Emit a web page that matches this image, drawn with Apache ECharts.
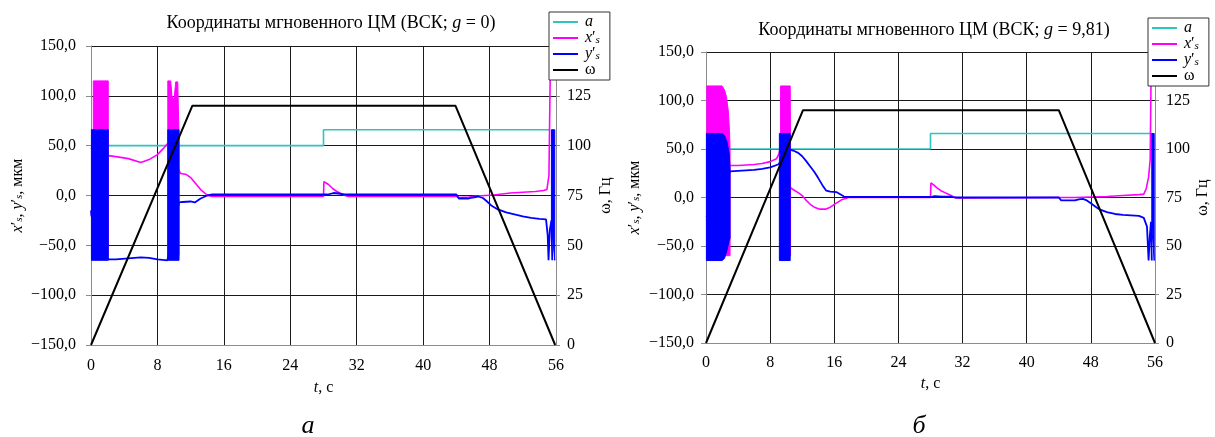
<!DOCTYPE html>
<html><head><meta charset="utf-8">
<script src="https://cdn.jsdelivr.net/npm/echarts@6/dist/echarts.min.js"></script>
<style>html,body{margin:0;padding:0;background:#fff}#c{width:1215px;height:437px}</style>
</head><body><div id="c"></div>
<script>
// ---------- data (time t in s, coordinates in µm, ω in Hz) ----------
const timeTicks = [0, 8, 16, 24, 32, 40, 48, 56];
const coordTicks = [-150, -100, -50, 0, 50, 100, 150];
const omegaTicks = [0, 25, 50, 75, 100, 125];

// chart a (g = 0)
const cyanA = [[0.3,50],[28,50],[28,66],[55.3,66]];
const omegaA = [[0,0],[12.2,120],[43.9,120],[55.9,0]];
const magA = [[0,48],[0.3,45],[2.1,40],[3,39],[4.5,37],[6,33],[7,36],[8,41],[8.7,47],[9.2,52],[10.6,25],[10.8,22],[11.5,21],[12,18],[12.5,13],[13.2,6],[13.9,1],[14.5,-1],[28,-1],[28.05,14],[28.6,11],[29.1,7],[29.6,4],[30.1,2],[30.6,0],[31,-1],[44,-1],[44.3,-2],[45.5,-1.5],[46.5,-0.5],[47.5,0],[48.5,0.5],[49.5,1.5],[50.5,2.5],[51.5,3],[52.5,3.5],[53.5,4],[54.5,5],[54.9,6],[55.15,20],[55.3,118],[55.4,130]];
const magBandsA = [
  [[0.28,-60,115],[2.08,-60,115]],
  [[9.25,-60,115],[9.6,-60,115],[9.75,-60,100],[10.0,-60,96],[10.2,-60,114],[10.45,-60,114],[10.6,-60,60]]
];
const blueA = [[0,-15],[0.05,-20],[2.08,-64],[3,-64],[4.5,-63],[6,-62],[7,-62.5],[8,-64],[9.2,-65],[10.6,-7],[11,-6.5],[12,-6],[12.5,-7],[13.2,-3],[14,0],[14.5,1],[28,1],[28.5,1],[29.2,2.5],[29.8,2],[30.5,1],[44,1],[44.3,-3],[45.5,-3],[46,-2],[46.6,-1],[47.2,-2.5],[47.7,-6],[48.2,-10],[49,-14],[50,-17],[51,-19],[52,-21],[53,-22.5],[54,-23.5],[54.8,-24],[55,-40],[55.1,-65],[55.25,-35],[55.45,-25],[55.55,-65]];
const blueBandsA = [
  [[0.05,-65,66],[2.08,-65,66]],
  [[9.25,-65,66],[10.6,-65,66]],
  [[55.45,-30,66],[55.85,-65,66]]
];

// chart б (g = 9,81)
const cyanB = [[0.5,50],[28,50],[28,66],[55.6,66]];
const omegaB = [[0,0],[12.1,120],[44,120],[56,0]];
const magB = [[0.1,32],[2.95,33],[4,33],[5,33.5],[6,34],[7,35],[8,37],[8.8,40],[9.1,45],[9.3,52],[10.55,10],[10.9,8],[11.5,5],[12,2],[12.5,-3],[13,-7],[13.5,-10],[14.2,-12],[14.9,-12],[15.5,-10],[16.2,-6],[17,-2],[17.8,0],[28,0],[28.05,15],[28.4,13],[28.8,10],[29.3,7],[29.8,5],[30.3,3],[30.8,1],[31.3,-0.5],[32,-0.5],[44,0],[46,0],[48,0.5],[50,1],[52,2],[54,3],[54.6,3.5],[54.9,9],[55.2,21],[55.4,39],[55.5,118],[55.55,126]];
const magBandsB = [
  [[0.1,-60,115],[2.0,-60,115],[2.3,-60,111],[2.55,-60,104],[2.8,-60,88],[2.95,-60,65],[3.0,-60,50]],
  [[9.3,-60,115],[10.5,-60,115],[10.55,-60,40]]
];
const blueB = [[0.05,-20],[3.0,27],[4,27.5],[5,28],[6,28.5],[7,29.5],[8,31],[9,34],[9.2,36],[10.5,49],[11,48],[11.5,46],[12,42.5],[12.5,37.5],[13,32],[13.5,26.5],[14,20],[14.5,13],[15,7],[15.5,6],[16.3,5.5],[16.8,3],[17.2,1],[18,0.5],[28,0.5],[28.5,1.5],[29.5,1],[30.5,1],[31,0],[44,0],[44.3,-3],[46,-3],[46.5,-2],[47,-1.5],[47.5,-3],[48,-6],[48.5,-9],[49,-12],[50,-15],[51,-17],[52,-18],[53,-18.5],[54,-19],[54.6,-21],[55,-30],[55.2,-65],[55.35,-40],[55.5,-25],[55.6,-65]];
const blueBandsB = [
  [[0.05,-65,66],[2.0,-65,66],[2.3,-63,64],[2.6,-55,58],[2.9,-44,45],[3.0,-42,30]],
  [[9.15,-65,66],[10.5,-65,66]],
  [[55.6,-30,66],[55.9,-65,66]]
];

// ---------- styling ----------
const FONT = 'Liberation Serif';
const C_CYAN = '#2ec4c0', C_MAG = '#ff00ff', C_BLUE = '#0000ff', C_BLACK = '#000000';
const GRID_LINE = '#1a1a1a', AXIS_LINE = '#8c8c8c';

const richBase = {
  i: {fontFamily: FONT, fontStyle: 'italic', fontSize: 16, color: '#000', lineHeight: 15, verticalAlign: 'middle'},
  n: {fontFamily: FONT, fontSize: 16, color: '#000', lineHeight: 15, verticalAlign: 'middle'},
  s: {fontFamily: FONT, fontStyle: 'italic', fontSize: 11, color: '#000', lineHeight: 8, verticalAlign: 'bottom'}
};
const richTitle = {
  i: {fontFamily: FONT, fontStyle: 'italic', fontSize: 18, color: '#000'},
  n: {fontFamily: FONT, fontSize: 18, color: '#000'}
};

const legendText = {
  a: '{i|a}', xs: '{i|x}{n|′}{s|s}', ys: '{i|y}{n|′}{s|s}', w: '{n|ω}',
  a2: '{i|a}', xs2: '{i|x}{n|′}{s|s}', ys2: '{i|y}{n|′}{s|s}', w2: '{n|ω}'
};

function fmtCoord(v) { return (v < 0 ? '−' : '') + Math.abs(v).toFixed(1).replace('.', ','); }

function xAxis(gi, margin, gap) {
  return {
    type: 'value', gridIndex: gi, min: timeTicks[0], max: timeTicks[timeTicks.length - 1], interval: 8,
    axisLine: {show: true, onZero: false, lineStyle: {color: AXIS_LINE, width: 1}},
    axisTick: {show: false},
    axisLabel: {fontFamily: FONT, fontSize: 16, color: '#000', margin: margin},
    splitLine: {show: true, lineStyle: {color: GRID_LINE, width: 1}},
    name: '{i|t}{n|, с}', nameLocation: 'middle', nameGap: gap,
    nameTextStyle: {rich: richBase}
  };
}
function yCoordAxis(gi, margin, gap) {
  return {
    type: 'value', gridIndex: gi, min: coordTicks[0], max: coordTicks[coordTicks.length - 1], interval: 50, position: 'left',
    axisLine: {show: true, lineStyle: {color: AXIS_LINE, width: 1}},
    axisTick: {show: true, length: 5, lineStyle: {color: AXIS_LINE}},
    axisLabel: {fontFamily: FONT, fontSize: 16, color: '#000', margin: margin, formatter: fmtCoord},
    splitLine: {show: true, lineStyle: {color: GRID_LINE, width: 1}},
    name: '{i|x}{n|′}{s|s}{n|, }{i|y}{n|′}{s|s}{n|, мкм}', nameLocation: 'middle', nameGap: gap, nameRotate: 90,
    nameTextStyle: {rich: richBase}
  };
}
function yOmegaAxis(gi, margin, gap) {
  return {
    type: 'value', gridIndex: gi, min: 0, max: 150, interval: 25, position: 'right',
    axisLine: {show: true, lineStyle: {color: AXIS_LINE, width: 1}},
    axisTick: {show: true, length: 4, lineStyle: {color: AXIS_LINE}},
    axisLabel: {fontFamily: FONT, fontSize: 16, color: '#000', margin: margin,
      formatter: v => (omegaTicks.indexOf(v) < 0 ? '' : String(v))},
    splitLine: {show: false},
    name: '{n|ω, Гц}', nameLocation: 'middle', nameGap: gap, nameRotate: 90,
    nameTextStyle: {rich: richBase}
  };
}

function lineS(name, data, color, width, xi, yi, z) {
  return {
    type: 'line', name: name, data: data, xAxisIndex: xi, yAxisIndex: yi, z: z,
    showSymbol: false, symbol: 'none', color: color, silent: true,
    lineStyle: {color: color, width: width}, itemStyle: {color: color}, animation: false
  };
}
function bandS(bands, color, xi, yi, z) {
  return {
    type: 'custom', xAxisIndex: xi, yAxisIndex: yi, z: z, silent: true, animation: false,
    data: bands.map(b => [b[0][0], b[0][2]]),
    encode: {x: 0, y: 1},
    renderItem: function (params, api) {
      const b = bands[params.dataIndex];
      const up = b.map(p => api.coord([p[0], p[2]]));
      const lo = b.map(p => api.coord([p[0], p[1]])).reverse();
      return {type: 'polygon', shape: {points: up.concat(lo)},
        style: {fill: color, stroke: color, lineWidth: 1}};
    }
  };
}

function legend(left, top, names) {
  return {
    data: names, orient: 'vertical', left: left, top: top,
    icon: 'rect', itemWidth: 25, itemHeight: 2, itemGap: 0,
    padding: [2, 10, 2, 4], borderColor: '#333', borderWidth: 1, backgroundColor: '#fff',
    selectedMode: false, z: 20,
    formatter: n => legendText[n],
    textStyle: {rich: richBase, padding: [0, 0, 0, 2]}
  };
}

const chart = echarts.init(document.getElementById('c'), null, {renderer: 'canvas'});
chart.setOption({
  backgroundColor: '#fff',
  animation: false,
  grid: [
    {left: 91, top: 46, width: 465, height: 299},
    {left: 706, top: 52, width: 449, height: 291}
  ],
  xAxis: [xAxis(0, 13, 35), xAxis(1, 12, 31)],
  yAxis: [yCoordAxis(0, 15, 66), yOmegaAxis(0, 11, 42), yCoordAxis(1, 12, 64), yOmegaAxis(1, 11, 40)],
  legend: [legend(549, 12, ['a', 'xs', 'ys', 'w']), legend(1148, 18, ['a2', 'xs2', 'ys2', 'w2'])],
  graphic: [
    {type: 'text', x: 331, y: 23, style: {text: '{n|Координаты мгновенного ЦМ (ВСК; }{i|g}{n| = 0)}', rich: richTitle, align: 'center', verticalAlign: 'middle'}},
    {type: 'text', x: 934, y: 30, style: {text: '{n|Координаты мгновенного ЦМ (ВСК; }{i|g}{n| = 9,81)}', rich: richTitle, align: 'center', verticalAlign: 'middle'}},
    {type: 'text', x: 308, y: 426, style: {text: 'а', fontFamily: FONT, fontStyle: 'italic', fontSize: 26, fill: '#000', align: 'center', verticalAlign: 'middle'}},
    {type: 'text', x: 919, y: 426, style: {text: 'б', fontFamily: FONT, fontStyle: 'italic', fontSize: 26, fill: '#000', align: 'center', verticalAlign: 'middle'}}
  ],
  series: [
    lineS('a', cyanA, C_CYAN, 1.6, 0, 0, 2),
    lineS('xs', magA, C_MAG, 1.6, 0, 0, 3),
    bandS(magBandsA, C_MAG, 0, 0, 3),
    lineS('ys', blueA, C_BLUE, 1.8, 0, 0, 4),
    bandS(blueBandsA, C_BLUE, 0, 0, 4),
    lineS('w', omegaA, C_BLACK, 2, 0, 1, 5),

    lineS('a2', cyanB, C_CYAN, 1.6, 1, 2, 2),
    lineS('xs2', magB, C_MAG, 1.6, 1, 2, 3),
    bandS(magBandsB, C_MAG, 1, 2, 3),
    lineS('ys2', blueB, C_BLUE, 1.8, 1, 2, 4),
    bandS(blueBandsB, C_BLUE, 1, 2, 4),
    lineS('w2', omegaB, C_BLACK, 2, 1, 3, 5)
  ]
});
</script></body></html>
